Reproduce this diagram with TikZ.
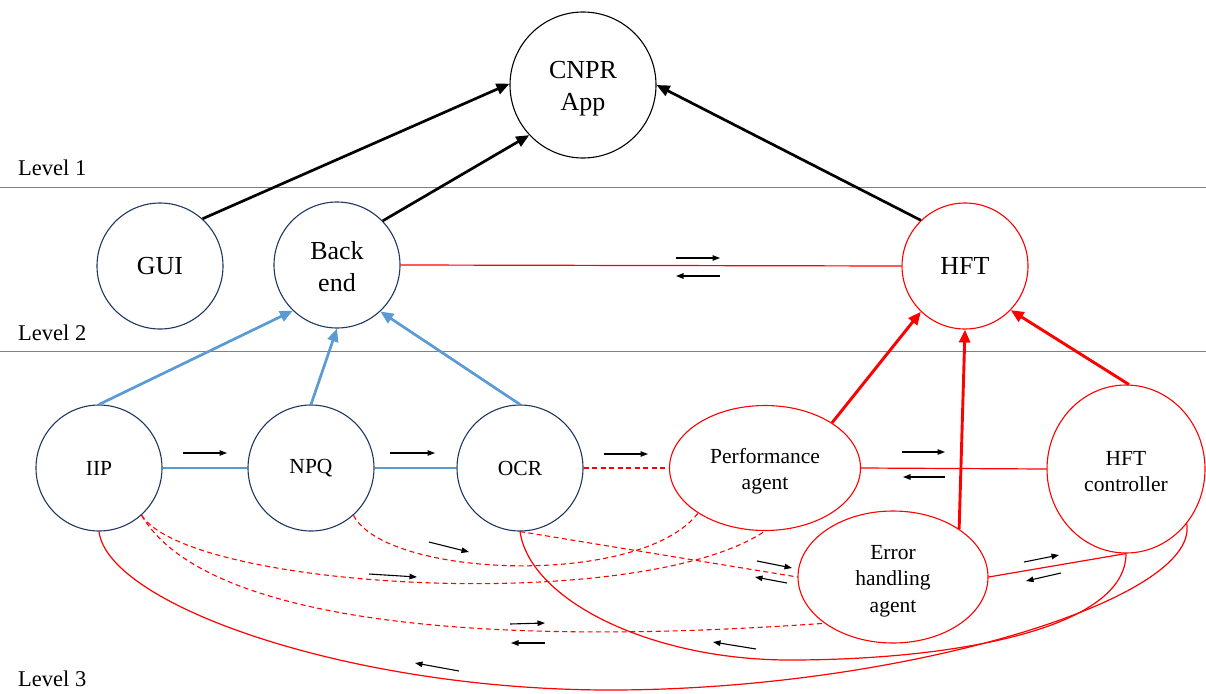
\documentclass[tikz,border=0pt]{standalone}
\usepackage{fontspec}
\setmainfont{Liberation Serif}
\usetikzlibrary{arrows.meta,shapes.geometric}
\definecolor{navy}{HTML}{203864}
\definecolor{lblue}{HTML}{5B9BD5}
\definecolor{rred}{HTML}{FF0000}
\definecolor{lgray}{HTML}{808080}
\newcommand\topgap[1]{\rule{0pt}{#1}}
\begin{document}
\begin{tikzpicture}[x=1pt,y=-1pt,
  bignode/.style={circle,draw=black,line width=1.1pt,inner sep=0pt,align=center,font=\fontsize{26}{32}\selectfont},
  hftnode/.style={bignode,draw=rred},
  lownode/.style={ellipse,draw=navy,line width=1.1pt,inner sep=0pt,align=center,font=\fontsize{21.5}{26.5}\selectfont,minimum width=126pt,minimum height=126pt},
  agentnode/.style={lownode,draw=rred},
  levellabel/.style={anchor=west,inner sep=0pt,font=\fontsize{22.5}{27}\selectfont},
  levelline/.style={draw=lgray,line width=0.8pt},
  blkarrow/.style={draw=black,line width=2.7pt,-{Triangle[length=13pt,width=11pt]}},
  bluearrow/.style={draw=lblue,line width=2.7pt,-{Triangle[length=13pt,width=11pt]}},
  redarrow/.style={draw=rred,line width=2.9pt,-{Triangle[length=13pt,width=11pt]}},
  blueline/.style={draw=lblue,line width=1.3pt},
  redline/.style={draw=rred,line width=1.2pt},
  reddash/.style={draw=rred,line width=1.1pt,dash pattern=on 5pt off 3.5pt},
  flow/.style={draw=black,line width=1.1pt,-{Triangle[length=7.5pt,width=5.5pt]}}
]
\useasboundingbox (0,0) rectangle (1206,693);

% level labels and separators
\node[levellabel] (l1) at (18,168) {Level 1};
\node[levellabel] (l2) at (18,333) {Level 2};
\node[levellabel] (l3) at (18,679) {Level 3};
\draw[levelline] (0,187) -- (1206,187);
\draw[levelline] (0,351) -- (1206,351);

% nodes
\node[bignode,minimum size=146pt] (cnpr) at (583,85) {\topgap{24pt}CNPR\\App};
\node[bignode,draw=navy,minimum size=126pt] (gui) at (160,266) {GUI};
\node[bignode,draw=navy,minimum size=126pt] (back) at (337,265) {\topgap{21pt}Back\\end};
\node[hftnode,minimum size=126pt] (hft) at (965,266) {HFT};

\node[lownode] (iip) at (99,468) {IIP};
\node[lownode] (npq) at (311,468) {NPQ};
\node[lownode] (ocr) at (520,468) {OCR};
\node[agentnode,minimum width=191pt,minimum height=125pt] (perf) at (765,468) {\topgap{22pt}Performance\\agent};
\node[agentnode,minimum width=158pt,minimum height=168pt] (hctrl) at (1126,469) {\topgap{19pt}HFT\\controller};
\node[agentnode,minimum width=190pt,minimum height=132pt] (err) at (893,577) {\topgap{22pt}Error\\handling\\agent};

% level 1 arrows
\draw[blkarrow] (gui.48) -- (cnpr.179);
\draw[blkarrow] (back.44) -- (cnpr.223);
\draw[blkarrow] (hft.134) -- (cnpr.0);

% level 2
\draw[redline] (back.east) -- (hft.west);
\draw[bluearrow] (iip.north) -- (back.226);
\draw[bluearrow] (npq.north) -- (back.south);
\draw[bluearrow] (ocr.north) -- (back.-47);
\draw[redarrow] (perf.34) -- (hft.226);
\draw[redarrow] (err.36) -- (hft.south);
\draw[redarrow] (hctrl.88) -- (hft.-44);

% level 3 links
\draw[blueline] (iip.east) -- (npq.west);
\draw[blueline] (npq.east) -- (ocr.west);
\draw[reddash] (ocr.east) -- (perf.west);
\draw[redline] (perf.east) -- (hctrl.west);
\draw[redline] (err.east) -- (hctrl.south);
\draw[reddash] (ocr.south) -- (err.west);

% curved links
\draw[reddash] (npq.-48) .. controls (385,578) and (640,588) .. (perf.214);
\draw[reddash] (iip.-48) .. controls (190,590) and (640,615) .. (perf.south);
\draw[reddash] (iip.-48) .. controls (200,615) and (450,650) .. (err.214);
\coordinate (b1) at (610,690);
\draw[redline] (iip.south) .. controls (108,605) and (350,690) .. (b1)
  .. controls (900,690) and (1200,600) .. (hctrl.-42);
\coordinate (b2) at (790,660);
\draw[redline] (ocr.south) .. controls (530,600) and (650,660) .. (b2)
  .. controls (950,660) and (1126,630) .. (hctrl.south);

% small direction arrows
\draw[flow] (676,258) -- (720,258);
\draw[flow] (720,276) -- (676,276);
\draw[flow] (183,453) -- (227,453);
\draw[flow] (390,453) -- (435,453);
\draw[flow] (604,454) -- (648,454);
\draw[flow] (902,452) -- (945,452);
\draw[flow] (945,477) -- (903,477);
\draw[flow] (1024,562) -- (1059,555);
\draw[flow] (1061,573) -- (1026,581);
\draw[flow] (757,561) -- (792,568);
\draw[flow] (787,583) -- (755,577);
\draw[flow] (756,649) -- (713,642);
\draw[flow] (429,542) -- (469,552);
\draw[flow] (369,574) -- (417,577);
\draw[flow] (510,624) -- (545,623);
\draw[flow] (545,643) -- (511,643);
\draw[flow] (459,671) -- (415,663);
\end{tikzpicture}
\end{document}
